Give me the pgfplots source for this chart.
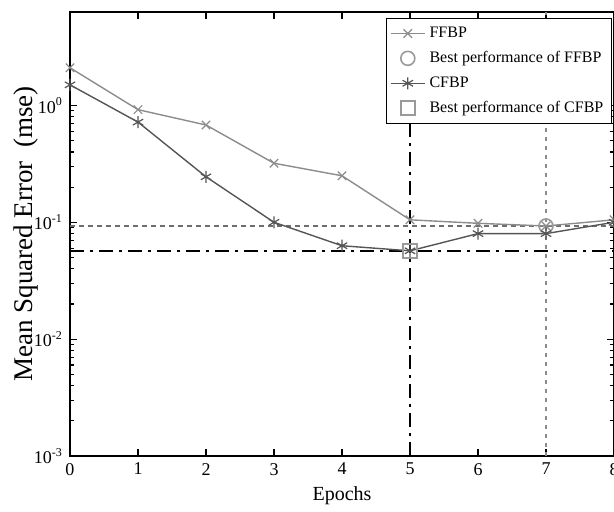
\documentclass[border=0pt]{standalone}
\usepackage{fontspec}
\setmainfont{Liberation Serif}
\usepackage{pgfplots}
\pgfplotsset{compat=1.18}
\usetikzlibrary{calc}
\definecolor{ffbp}{RGB}{140,140,140}
\definecolor{cfbp}{RGB}{85,85,85}
\definecolor{bestff}{RGB}{110,110,110}

\begin{document}
\begin{tikzpicture}
\begin{axis}[
    scale only axis,
    width=272pt, height=222pt,
    ymode=log,
    xmin=0, xmax=8, ymin=1e-3, ymax=6.3,
    xtick={0,1,2,3,4,5,6,7,8},
    ytick={1e-3,1e-2,1e-1,1},
    yticklabels={10\textsuperscript{-3},10\textsuperscript{-2},
                 10\textsuperscript{-1},10\textsuperscript{0}},
    tick label style={font=\small},
    /pgf/number format/assume math mode=true,
    xlabel={Epochs},
    ylabel={Mean Squared Error\ \ (mse)},
    xlabel style={font=\normalsize, yshift=1pt},
    ylabel style={font=\fontsize{13.5}{16}\selectfont},
    ylabel shift=-9pt,
    axis line style={black, line width=0.8pt},
    tick style={black, line width=0.6pt},
    major tick length=3.5pt, minor tick length=2pt,
    legend cell align=left,
    legend style={at={(rel axis cs:0.996,0.986)}, anchor=north east,
                  font=\footnotesize, draw=black, line width=0.5pt,
                  fill=white, row sep=1.5pt, inner sep=2pt},
    clip=true,
]
% reference lines (best performances)
\addplot[forget plot, bestff, line width=0.6pt, dash pattern=on 2.5pt off 2pt]
  coordinates {(0,0.093) (8,0.093)};
\addplot[forget plot, ffbp, line width=0.6pt, dash pattern=on 2pt off 2.5pt]
  coordinates {(7,1e-3) (7,6.3)};
\addplot[forget plot, black, line width=0.8pt, dash pattern=on 7pt off 3pt on 1.5pt off 3pt]
  coordinates {(0,0.057) (8,0.057)};
\addplot[forget plot, black, line width=0.8pt, dash pattern=on 7pt off 3pt on 1.5pt off 3pt]
  coordinates {(5,1e-3) (5,6.3)};

\addplot[ffbp, line width=0.7pt, mark=x, mark size=3pt,
         mark options={line width=0.6pt}]
  coordinates {
    (0,2.1) (1,0.92) (2,0.68) (3,0.32) (4,0.25)
    (5,0.105) (6,0.098) (7,0.093) (8,0.105)
  };
\addlegendentry{FFBP}
\addplot[only marks, bestff!70, mark=o, mark size=3.5pt,
         mark options={line width=0.8pt}]
  coordinates {(7,0.093)};
\addlegendentry{Best performance of FFBP}
\addplot[cfbp, line width=0.7pt, mark=asterisk, mark size=3pt,
         mark options={line width=0.6pt}]
  coordinates {
    (0,1.5) (1,0.72) (2,0.245) (3,0.1) (4,0.063)
    (5,0.057) (6,0.08) (7,0.08) (8,0.1)
  };
\addlegendentry{CFBP}
\addplot[only marks, bestff!70, mark=square, mark size=3.5pt,
         mark options={line width=0.8pt}]
  coordinates {(5,0.057)};
\addlegendentry{Best performance of CFBP}
\end{axis}
\pgfresetboundingbox
\path[use as bounding box]
  ($(current axis.south west)+(-35pt,-27.5pt)$) rectangle
  ($(current axis.north east)+(0pt,6pt)$);
\end{tikzpicture}
\end{document}
